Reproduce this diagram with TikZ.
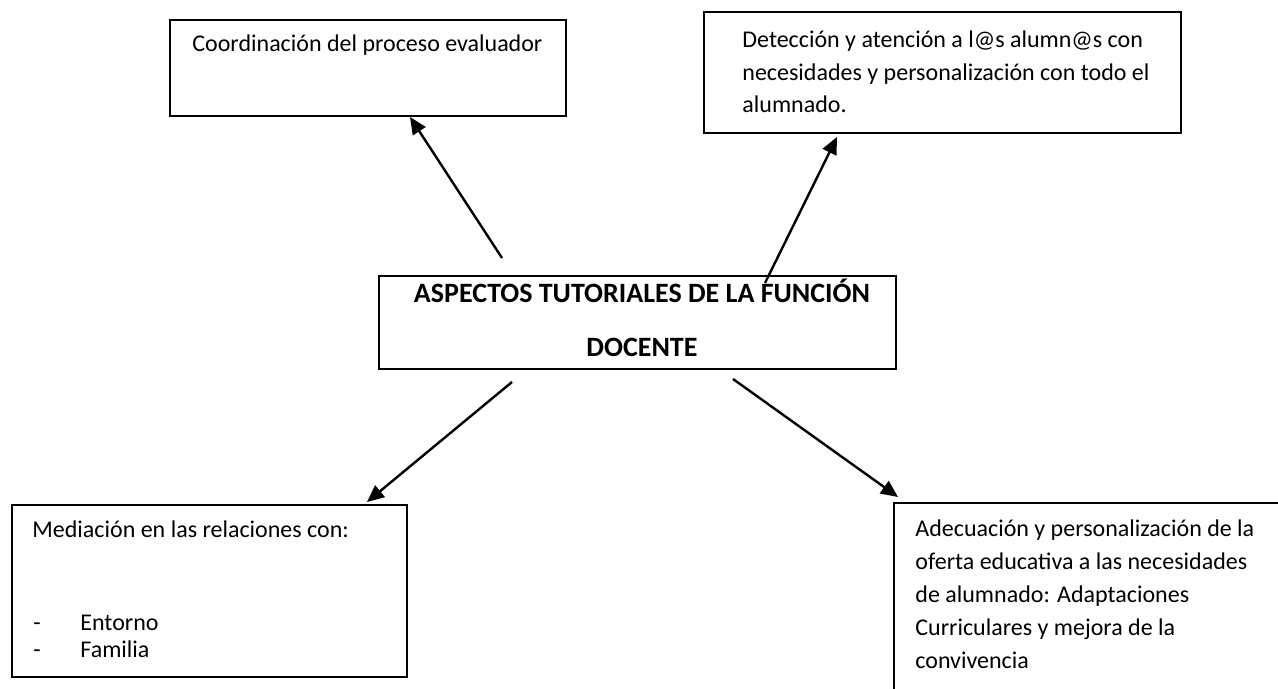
\documentclass[tikz,border=0pt]{standalone}
\usepackage{fontspec}
\setmainfont{Carlito}
\usetikzlibrary{arrows.meta,calc}
\begin{document}
\begin{tikzpicture}[x=0.5pt,y=-0.5pt,
  box/.style={draw, line width=1pt, inner sep=0pt, anchor=north west},
  txt/.style={inner sep=0pt, align=left, font=\fontsize{12}{16.25}\selectfont, anchor=base west},
  head/.style={inner sep=0pt, align=center, font=\fontsize{14}{27}\selectfont\bfseries, anchor=base},
  arr/.style={line width=1.2pt, -{Triangle[length=8.5pt,width=7.5pt]}}]
\useasboundingbox (0,0) rectangle (1278,689);
\clip (0,0) rectangle (1278,689);
\node[box, minimum width=198pt, minimum height=48pt] (A) at (169,19) {};
\node[txt] (At) at (192,52) {Coordinación del proceso evaluador};
\node[box, minimum width=238.5pt, minimum height=60.5pt] (B) at (703,11) {};
\node[txt] (Bt) at (742,113) {Detección y atención a l@s alumn@s con\\necesidades y personalización con todo el\\alumnado.};
\node[box, minimum width=258.5pt, minimum height=46.5pt] (C) at (378,275) {};
\node[head] (Ct) at (642,357) {ASPECTOS TUTORIALES DE LA FUNCIÓN\\DOCENTE};
\node[box, minimum width=197.5pt, minimum height=86pt] (D) at (11,504) {};
\node[txt] (Dt) at (32,537) {Mediación en las relaciones con:};
\node[txt, font=\fontsize{12}{13.5}\selectfont] (Dd) at (33,657) {-\\-};
\node[txt, font=\fontsize{12}{13.5}\selectfont] (Dl) at (80,657) {Entorno\\Familia};
\node[box, minimum width=210pt, minimum height=110pt] (E) at (893,502) {};
\node[txt, font=\fontsize{12}{16.5}\selectfont] (Et) at (915,668) {Adecuación y personalización de la\\oferta educativa a las necesidades\\de alumnado: Adaptaciones\\Curriculares y mejora de la\\convivencia};
\draw[arr] ($(C.north west)+(124,-17)$) -- ($(A.south west)+(241,0)$);
\draw[arr] ($(C.north west)+(387,8)$) -- ($(B.south west)+(134,3)$);
\draw[arr] ($(C.south west)+(134,12)$) -- ($(D.north west)+(356,-2)$);
\draw[arr] ($(C.south west)+(355,9)$) -- ($(E.north west)+(5,-5)$);
\end{tikzpicture}
\end{document}
